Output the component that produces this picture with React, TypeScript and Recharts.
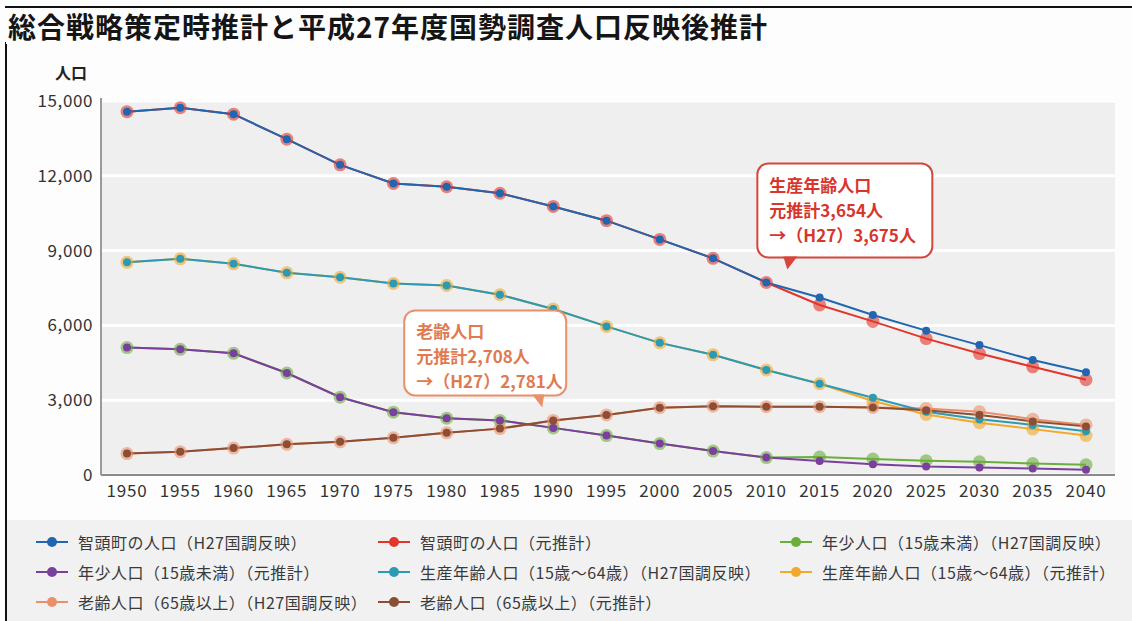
import { LineChart, Line, XAxis, YAxis, CartesianGrid, ReferenceDot } from "recharts";

const years = ["1950", "1955", "1960", "1965", "1970", "1975", "1980", "1985", "1990", "1995", "2000", "2005", "2010", "2015", "2020", "2025", "2030", "2035", "2040"];

// 智頭町の人口
const totalH27 = [14570, 14730, 14470, 13470, 12440, 11690, 11560, 11300, 10770, 10200, 9450, 8690, 7720, 7120, 6420, 5790, 5210, 4610, 4120];
const totalOrig = [14570, 14730, 14470, 13470, 12440, 11690, 11560, 11300, 10770, 10200, 9450, 8690, 7720, 6820, 6160, 5470, 4870, 4340, 3820];
// 生産年齢人口（15歳～64歳）
const prodH27 = [8530, 8670, 8470, 8110, 7930, 7680, 7600, 7230, 6660, 5960, 5300, 4820, 4210, 3660, 3100, 2540, 2240, 2010, 1750];
const prodOrig = [8530, 8670, 8470, 8110, 7930, 7680, 7600, 7230, 6660, 5960, 5300, 4820, 4210, 3660, 2970, 2430, 2100, 1840, 1580];
// 年少人口（15歳未満）
const childH27 = [5110, 5040, 4880, 4090, 3120, 2520, 2280, 2190, 1890, 1580, 1260, 960, 700, 720, 640, 570, 530, 460, 410];
const childOrig = [5110, 5040, 4880, 4090, 3120, 2520, 2280, 2190, 1890, 1580, 1260, 960, 700, 560, 430, 340, 300, 260, 210];
// 老齢人口（65歳以上）
const elderH27 = [860, 930, 1080, 1230, 1330, 1490, 1690, 1860, 2190, 2410, 2700, 2760, 2740, 2740, 2710, 2670, 2540, 2240, 2010];
const elderOrig = [860, 930, 1080, 1230, 1330, 1490, 1690, 1860, 2190, 2410, 2700, 2760, 2740, 2740, 2710, 2600, 2410, 2150, 1950];

const yTicks = [0, 3000, 6000, 9000, 12000, 15000];

const data = years.map((year, i) => ({
  year,
  totalH27: totalH27[i],
  totalOrig: totalOrig[i],
  prodH27: prodH27[i],
  prodOrig: prodOrig[i],
  childH27: childH27[i],
  childOrig: childOrig[i],
  elderH27: elderH27[i],
  elderOrig: elderOrig[i],
}));

const series = {
  totalH27: { name: "智頭町の人口（H27国調反映）", color: "#2166b0" },
  totalOrig: { name: "智頭町の人口（元推計）", color: "#e2352b" },
  childH27: { name: "年少人口（15歳未満）（H27国調反映）", color: "#6aae3c" },
  childOrig: { name: "年少人口（15歳未満）（元推計）", color: "#7b3f9e" },
  prodH27: { name: "生産年齢人口（15歳～64歳）（H27国調反映）", color: "#2c9ab4" },
  prodOrig: { name: "生産年齢人口（15歳～64歳）（元推計）", color: "#f2a82a" },
  elderH27: { name: "老齢人口（65歳以上）（H27国調反映）", color: "#e9906a" },
  elderOrig: { name: "老齢人口（65歳以上）（元推計）", color: "#8c4e34" },
};

// drawn first, with the bigger soft dots underneath
const underKeys = ["totalOrig", "prodOrig", "childH27", "elderH27"] as const;
const overKeys = ["totalH27", "prodH27", "childOrig", "elderOrig"] as const;

// legend rows as in the original
const legendRows = [
  ["totalH27", "totalOrig", "childH27"],
  ["childOrig", "prodH27", "prodOrig"],
  ["elderH27", "elderOrig"],
] as const;
const legendCols = [36, 378, 780];

const FONT = '"Noto Sans CJK JP", "Noto Sans", sans-serif';

function Callout(props: any) {
  const { cx, cy, lines, color, textColor, box, tail } = props;
  if (cx == null || cy == null) return null;
  const x0 = cx + box[0];
  const x1 = cx + box[1];
  const y0 = cy + box[2];
  const y1 = cy + box[3];
  return (
    <g>
      <rect x={x0} y={y0} width={x1 - x0} height={y1 - y0} rx={11} ry={11} fill="#fff" stroke={color} strokeWidth={2} />
      <polygon
        points={`${cx + tail[0]},${y1 - 1} ${cx + tail[1]},${y1 - 1} ${cx + tail[2]},${cy + tail[3]}`}
        fill={color}
      />
      {lines.map((t: string, i: number) => (
        <text
          key={i}
          x={x0 + 12}
          y={y0 + 28 + i * 25}
          fill={textColor}
          fontSize={17}
          fontWeight={700}
          fontFamily={FONT}
        >
          {t}
        </text>
      ))}
    </g>
  );
}

function LegendIcon({ color }: { color: string }) {
  return (
    <svg width={32} height={12} style={{ display: "block" }}>
      <line x1={0} y1={6} x2={32} y2={6} stroke={color} strokeWidth={2} />
      <circle cx={16} cy={6} r={5} fill={color} />
    </svg>
  );
}

export default function App() {
  return (
    <div
      style={{
        position: "absolute",
        left: 0,
        top: 0,
        width: 1132,
        height: 621,
        background: "#fdfdfd",
        overflow: "hidden",
        fontFamily: FONT,
      }}
    >
      <div style={{ position: "absolute", left: 5, top: 6, width: 1127, height: 2, background: "#111" }} />
      <div style={{ position: "absolute", left: 5, top: 42, width: 2, height: 579, background: "#111" }} />
      <div
        style={{
          position: "absolute",
          left: 6,
          top: 8,
          padding: "0 2px",
          background: "#fdfdfd",
          fontSize: 28,
          fontWeight: 700,
          lineHeight: "36px",
          letterSpacing: 1,
          color: "#151515",
          whiteSpace: "nowrap",
        }}
      >
        総合戦略策定時推計と平成27年度国勢調査人口反映後推計
      </div>
      <div
        style={{
          position: "absolute",
          left: 55,
          top: 61,
          fontSize: 16,
          fontWeight: 700,
          lineHeight: "22px",
          color: "#222",
        }}
      >
        人口
      </div>

      <div style={{ position: "absolute", left: 0, top: 0 }}>
        <LineChart width={1132} height={520} data={data} margin={{ top: 98, right: 17, bottom: 15, left: 0 }}>
          <CartesianGrid vertical={false} fill="#efefef" stroke="#ffffff" strokeWidth={3} />
          <XAxis
            dataKey="year"
            interval={0}
            padding={{ left: 26, right: 29 }}
            height={30}
            tickLine={false}
            axisLine={{ stroke: "#8a8a8a", strokeWidth: 2 }}
            tick={{ fill: "#333", fontSize: 17, fontFamily: FONT, letterSpacing: 0.8 }}
            dy={2}
          />
          <YAxis
            width={101}
            domain={[0, 15120]}
            ticks={yTicks}
            tickLine={false}
            axisLine={{ stroke: "#9a9a9a", strokeWidth: 2 }}
            tick={{ fill: "#333", fontSize: 17, fontFamily: FONT, letterSpacing: 0.6 }}
            tickFormatter={(v: number) => v.toLocaleString("en-US")}
          />
          {underKeys.map((k) => (
            <Line
              key={k}
              dataKey={k}
              type="linear"
              stroke={series[k].color}
              strokeWidth={2}
              dot={{ r: 6.5, fill: series[k].color, fillOpacity: 0.6, stroke: "none" }}
              isAnimationActive={false}
            />
          ))}
          {overKeys.map((k) => (
            <Line
              key={k}
              dataKey={k}
              type="linear"
              stroke={series[k].color}
              strokeWidth={2}
              dot={{ r: 4, fill: series[k].color, stroke: "none" }}
              isAnimationActive={false}
            />
          ))}
          <ReferenceDot
            x="2010"
            y={totalH27[12]}
            r={0}
            shape={(p: any) => (
              <Callout
                {...p}
                lines={["生産年齢人口", "元推計3,654人", "→（H27）3,675人"]}
                color="#d6463b"
                textColor="#d8352c"
                box={[-9, 166, -119, -25]}
                tail={[17, 31, 21, -13]}
              />
            )}
          />
          <ReferenceDot
            x="1990"
            y={elderH27[8]}
            r={0}
            shape={(p: any) => (
              <Callout
                {...p}
                lines={["老齢人口", "元推計2,708人", "→（H27）2,781人"]}
                color="#e8906a"
                textColor="#e07a50"
                box={[-149, 13, -110, -25]}
                tail={[-21, -9, -11, -13]}
              />
            )}
          />
        </LineChart>
      </div>

      <div
        style={{
          position: "absolute",
          left: 7,
          top: 520,
          width: 1125,
          height: 101,
          background: "#f1f1f1",
        }}
      >
        {legendRows.map((row, ri) =>
          row.map((k, ci) => (
            <div
              key={k}
              style={{
                position: "absolute",
                left: legendCols[ci] - 7,
                top: 10 + ri * 30,
                height: 24,
                display: "flex",
                alignItems: "center",
                gap: 10,
                whiteSpace: "nowrap",
              }}
            >
              <LegendIcon color={series[k].color} />
              <span style={{ fontSize: 16, color: "#3a3a3a", lineHeight: "24px", letterSpacing: 0.5 }}>
                {series[k].name}
              </span>
            </div>
          ))
        )}
      </div>
    </div>
  );
}
